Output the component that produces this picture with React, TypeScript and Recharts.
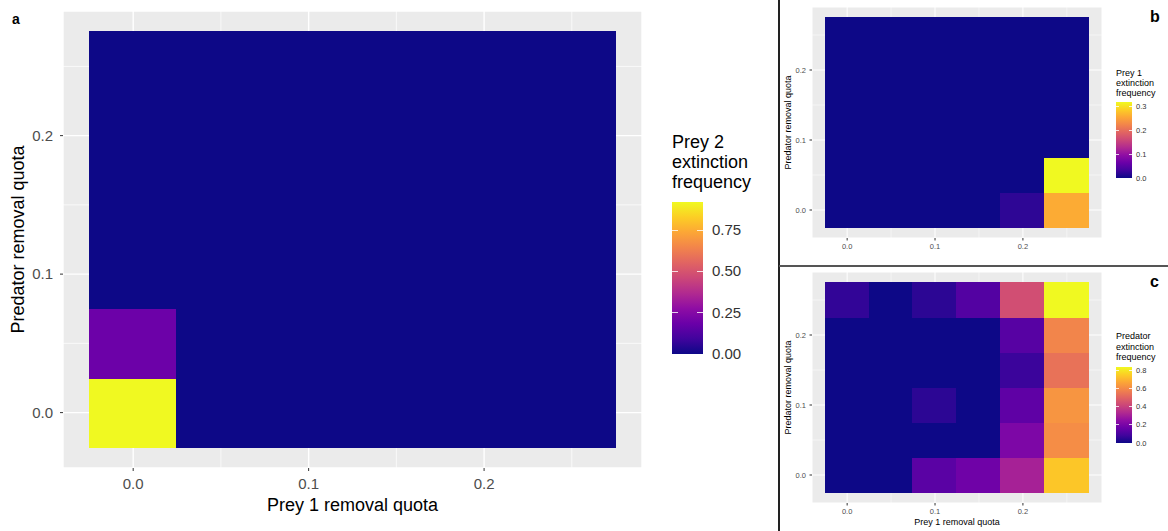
import React from 'react';
import { ScatterChart, Scatter, XAxis, YAxis, CartesianGrid, ReferenceArea } from 'recharts';

// Removal quota levels (both axes): prey 1 (x) and predator (y)
const preyQuotaLevels = [0, 0.05, 0.1, 0.15, 0.2, 0.25];
const predatorQuotaLevels = [0, 0.05, 0.1, 0.15, 0.2, 0.25];
const axisTicks = [0, 0.1, 0.2];
const minorGridValues = [0.05, 0.15, 0.25];

// rows: predator quota 0 -> 0.25 ; columns: prey 1 quota 0 -> 0.25
const prey2Extinction = [
  [0.92, 0, 0, 0, 0, 0],
  [0.19, 0, 0, 0, 0, 0],
  [0, 0, 0, 0, 0, 0],
  [0, 0, 0, 0, 0, 0],
  [0, 0, 0, 0, 0, 0],
  [0, 0, 0, 0, 0, 0],
];
const prey1Extinction = [
  [0, 0, 0, 0, 0.02, 0.26],
  [0, 0, 0, 0, 0, 0.32],
  [0, 0, 0, 0, 0, 0],
  [0, 0, 0, 0, 0, 0],
  [0, 0, 0, 0, 0, 0],
  [0, 0, 0, 0, 0, 0],
];
const predatorExtinction = [
  [0, 0, 0.135, 0.18, 0.31, 0.74],
  [0, 0, 0, 0, 0.21, 0.61],
  [0, 0, 0.05, 0, 0.145, 0.63],
  [0, 0, 0, 0, 0.075, 0.54],
  [0, 0, 0, 0, 0.13, 0.59],
  [0.06, 0, 0.05, 0.12, 0.44, 0.84],
];

const prey2LegendTicks = [0, 0.25, 0.5, 0.75];
const prey1LegendTicks = [0, 0.1, 0.2, 0.3];
const predatorLegendTicks = [0, 0.2, 0.4, 0.6, 0.8];

const FONT = '"Liberation Sans", Arial, sans-serif';
const PLASMA = ['#0d0887', '#41049d', '#6a00a8', '#8f0da4', '#b12a90', '#cc4778', '#e16462', '#f2844b', '#fca636', '#fcce25', '#f0f921'];

function hexToRgb(h: string) {
  return [parseInt(h.slice(1, 3), 16), parseInt(h.slice(3, 5), 16), parseInt(h.slice(5, 7), 16)];
}
function plasma(t: number) {
  const tt = Math.max(0, Math.min(1, t));
  const p = tt * (PLASMA.length - 1);
  const i = Math.min(PLASMA.length - 2, Math.floor(p));
  const f = p - i;
  const a = hexToRgb(PLASMA[i]);
  const b = hexToRgb(PLASMA[i + 1]);
  const c = a.map((v, k) => Math.round(v + (b[k] - v) * f));
  return `rgb(${c[0]},${c[1]},${c[2]})`;
}

function toCells(matrix: number[][]) {
  const cells: { x: number; y: number; v: number }[] = [];
  matrix.forEach((row, yi) =>
    row.forEach((v, xi) => cells.push({ x: preyQuotaLevels[xi], y: predatorQuotaLevels[yi], v }))
  );
  return cells;
}

const HALF = 0.025;

type PanelProps = {
  matrix: number[][];
  width: number;
  height: number;
  margin: { top: number; right: number; bottom: number; left: number };
  yAxisWidth: number;
  xAxisHeight: number;
  tickFont: number;
  titleFont: number;
  tickSize: number;
  tickMargin: number;
  xTitle?: boolean;
  xTitleOffset: number;
  yTitleDx: number;
  majorW: number;
  minorW: number;
};

function HeatPanel(p: PanelProps) {
  const cells = toCells(p.matrix);
  const vmax = Math.max(...cells.map((c) => c.v));
  const tickStyle = { fill: '#4d4d4d', fontSize: p.tickFont, fontFamily: FONT };
  return (
    <ScatterChart width={p.width} height={p.height} margin={p.margin}>
      <CartesianGrid fill="#ebebeb" stroke="#ffffff" strokeWidth={p.majorW} />
      <CartesianGrid
        stroke="#ffffff"
        strokeWidth={p.minorW}
        verticalValues={minorGridValues}
        horizontalValues={minorGridValues}
      />
      <XAxis
        type="number"
        dataKey="x"
        domain={[-0.04, 0.29]}
        ticks={axisTicks}
        height={p.xAxisHeight}
        axisLine={false}
        tickLine={{ stroke: '#333333' }}
        tickSize={p.tickSize}
        tickMargin={p.tickMargin}
        tick={tickStyle}
        tickFormatter={(v: number) => v.toFixed(1)}
        label={
          p.xTitle
            ? {
                value: 'Prey 1 removal quota',
                position: 'insideBottom',
                offset: p.xTitleOffset,
                style: { fontSize: p.titleFont, fontFamily: FONT, fill: '#000000' },
              }
            : undefined
        }
      />
      <YAxis
        type="number"
        dataKey="y"
        domain={[-0.04, 0.29]}
        ticks={axisTicks}
        width={p.yAxisWidth}
        axisLine={false}
        tickLine={{ stroke: '#333333' }}
        tickSize={p.tickSize}
        tickMargin={p.tickMargin}
        tick={tickStyle}
        tickFormatter={(v: number) => v.toFixed(1)}
        label={{
          value: 'Predator removal quota',
          angle: -90,
          position: 'center',
          dx: p.yTitleDx,
          style: { fontSize: p.titleFont, fontFamily: FONT, fill: '#000000', textAnchor: 'middle' },
        }}
      />
      {cells.map((c, i) => {
        const col = plasma(c.v / vmax);
        return (
          <ReferenceArea
            key={i}
            x1={c.x - HALF}
            x2={c.x + HALF}
            y1={c.y - HALF}
            y2={c.y + HALF}
            fill={col}
            fillOpacity={1}
            stroke={col}
            strokeWidth={1.2}
            shapeRendering="crispEdges"
            ifOverflow="visible"
          />
        );
      })}
      <Scatter data={cells} fill="none" shape={() => <g />} isAnimationActive={false} />
    </ScatterChart>
  );
}

type LegendProps = {
  left: number;
  titleTop: number;
  titleLines: string[];
  titleFont: number;
  lineHeight: number;
  barTop: number;
  barWidth: number;
  barHeight: number;
  ticks: number[];
  decimals: number;
  max: number;
  labelFont: number;
  labelGap: number;
};

function ColorLegend(l: LegendProps) {
  const grad = `linear-gradient(to top, ${PLASMA.join(', ')})`;
  return (
    <div style={{ position: 'absolute', left: l.left, top: 0, fontFamily: FONT }}>
      {l.titleLines.map((t, i) => (
        <div
          key={i}
          style={{
            position: 'absolute',
            left: 0,
            top: l.titleTop + i * l.lineHeight,
            fontSize: l.titleFont,
            lineHeight: `${l.lineHeight}px`,
            whiteSpace: 'nowrap',
            color: '#000',
          }}
        >
          {t}
        </div>
      ))}
      <div
        style={{ position: 'absolute', left: 0, top: l.barTop, width: l.barWidth, height: l.barHeight, background: grad }}
      />
      {l.ticks.map((t, i) => {
        const y = l.barTop + l.barHeight * (1 - t / l.max);
        const tw = Math.max(2, l.barWidth * 0.2);
        return (
          <React.Fragment key={i}>
            <div style={{ position: 'absolute', left: 0, top: y - 0.5, width: tw, height: 1, background: 'rgba(255,255,255,0.8)' }} />
            <div style={{ position: 'absolute', left: l.barWidth - tw, top: y - 0.5, width: tw, height: 1, background: 'rgba(255,255,255,0.8)' }} />
            <div
              style={{
                position: 'absolute',
                left: l.barWidth + l.labelGap,
                top: y - l.labelFont * 0.6,
                fontSize: l.labelFont,
                lineHeight: `${l.labelFont * 1.2}px`,
                color: '#333',
                whiteSpace: 'nowrap',
              }}
            >
              {t.toFixed(l.decimals)}
            </div>
          </React.Fragment>
        );
      })}
    </div>
  );
}

const maxOf = (m: number[][]) => Math.max(...m.flat());

export default function App() {
  return (
    <div style={{ position: 'fixed', left: 0, top: 0, width: 1168, height: 531, background: '#ffffff', overflow: 'hidden', fontFamily: FONT }}>
      {/* Panel a */}
      <div style={{ position: 'absolute', left: 0, top: 0 }}>
        <HeatPanel
          matrix={prey2Extinction}
          width={660}
          height={531}
          margin={{ top: 11, right: 18, bottom: 0, left: 0 }}
          yAxisWidth={63}
          xAxisHeight={63}
          tickFont={15}
          titleFont={18}
          tickSize={3}
          tickMargin={7}
          xTitle
          xTitleOffset={20}
          yTitleDx={-14}
          majorW={1.4}
          minorW={0.7}
        />
      </div>
      <ColorLegend
        left={672}
        titleTop={132}
        titleLines={['Prey 2', 'extinction', 'frequency']}
        titleFont={18}
        lineHeight={20}
        barTop={202}
        barWidth={31}
        barHeight={152}
        ticks={prey2LegendTicks}
        decimals={2}
        max={maxOf(prey2Extinction)}
        labelFont={15}
        labelGap={9}
      />
      {/* Panel b */}
      <div style={{ position: 'absolute', left: 780, top: 0 }}>
        <HeatPanel
          matrix={prey1Extinction}
          width={388}
          height={265}
          margin={{ top: 7, right: 66, bottom: 0, left: 0 }}
          yAxisWidth={32}
          xAxisHeight={27}
          tickFont={7.5}
          titleFont={9}
          tickSize={2.5}
          tickMargin={3.5}
          xTitleOffset={6}
          yTitleDx={-8}
          majorW={1}
          minorW={0.5}
        />
      </div>
      <ColorLegend
        left={1116}
        titleTop={68}
        titleLines={['Prey 1', 'extinction', 'frequency']}
        titleFont={9}
        lineHeight={10}
        barTop={102}
        barWidth={16}
        barHeight={76}
        ticks={prey1LegendTicks}
        decimals={1}
        max={maxOf(prey1Extinction)}
        labelFont={7.5}
        labelGap={4}
      />
      {/* Panel c */}
      <div style={{ position: 'absolute', left: 780, top: 266 }}>
        <HeatPanel
          matrix={predatorExtinction}
          width={388}
          height={265}
          margin={{ top: 6, right: 66, bottom: 0, left: 0 }}
          yAxisWidth={32}
          xAxisHeight={28}
          tickFont={7.5}
          titleFont={9}
          tickSize={2.5}
          tickMargin={3.5}
          xTitle
          xTitleOffset={6}
          yTitleDx={-8}
          majorW={1}
          minorW={0.5}
        />
      </div>
      <ColorLegend
        left={1116}
        titleTop={331}
        titleLines={['Predator', 'extinction', 'frequency']}
        titleFont={9}
        lineHeight={10.5}
        barTop={367}
        barWidth={16}
        barHeight={76}
        ticks={predatorLegendTicks}
        decimals={1}
        max={maxOf(predatorExtinction)}
        labelFont={7.5}
        labelGap={4}
      />
      {/* dividers */}
      <div style={{ position: 'absolute', left: 778, top: 0, width: 1.5, height: 531, background: '#222' }} />
      <div style={{ position: 'absolute', left: 779, top: 265, width: 389, height: 2, background: '#555' }} />
      {/* panel letters */}
      <div style={{ position: 'absolute', left: 12, top: 11, fontSize: 14, fontWeight: 'bold', color: '#000' }}>a</div>
      <div style={{ position: 'absolute', left: 1150, top: 8, fontSize: 16, fontWeight: 'bold', color: '#000' }}>b</div>
      <div style={{ position: 'absolute', left: 1150, top: 273, fontSize: 16, fontWeight: 'bold', color: '#000' }}>c</div>
    </div>
  );
}
